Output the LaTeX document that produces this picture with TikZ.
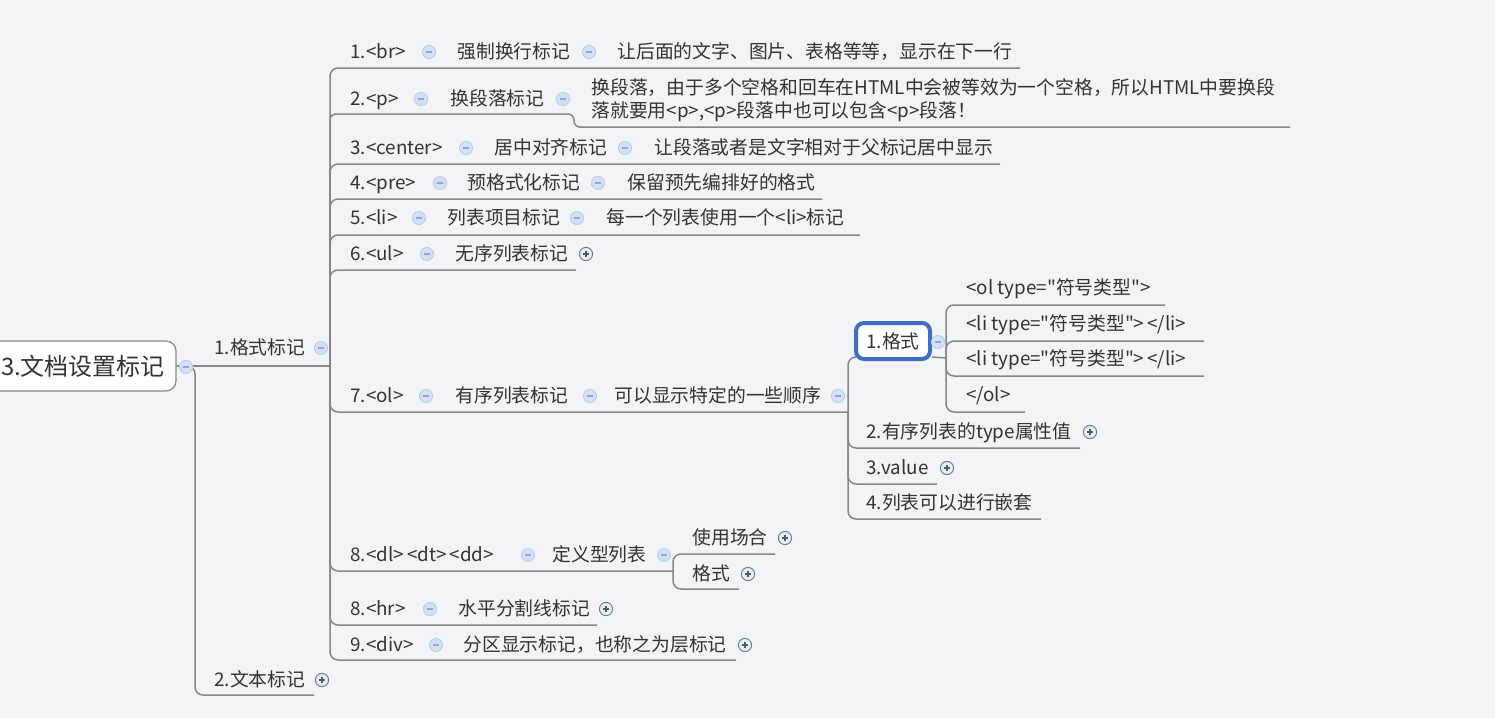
\documentclass[tikz,border=0pt]{standalone}
\usepackage{fontspec}
\setmainfont{Noto Sans CJK SC}
\newfontfamily\plainfont{Noto Sans CJK SC}
\definecolor{paper}{HTML}{F3F4F8}
\definecolor{wire}{HTML}{878787}
\definecolor{ink}{HTML}{333333}
\definecolor{foldfill}{HTML}{D3E0F5}
\definecolor{foldedge}{HTML}{BACDEC}
\definecolor{foldbar}{HTML}{8FA9D6}
\definecolor{unfoldfill}{HTML}{E9EEF5}
\definecolor{unfoldedge}{HTML}{6C7F98}
\definecolor{pick}{HTML}{3F6EC6}
\tikzset{
  lbl/.style={anchor=base west,yshift=-3.4pt,inner sep=0,text=ink,font=\plainfont\fontsize{9.4}{11}\selectfont},
  fold/.style={circle,inner sep=0,minimum size=6.6pt,fill=foldfill,draw=foldedge,line width=0.4pt,
    path picture={\draw[foldbar,line width=0.8pt]
      ([xshift=-1.6pt]path picture bounding box.center) -- ([xshift=1.6pt]path picture bounding box.center);}},
  unfold/.style={circle,inner sep=0,minimum size=6.6pt,fill=unfoldfill,draw=unfoldedge,line width=0.5pt,
    path picture={\draw[unfoldedge!70!black,line width=0.6pt]
      ([xshift=-1.7pt]path picture bounding box.center) -- ([xshift=1.7pt]path picture bounding box.center)
      ([yshift=-1.7pt]path picture bounding box.center) -- ([yshift=1.7pt]path picture bounding box.center);}},
  branch/.style={draw=wire,line width=0.75pt,rounded corners=4pt},
}
\begin{document}
\begin{tikzpicture}[x=0.5pt,y=-0.5pt]
  \fill[paper] (0,0) rectangle (1495,718);
  \useasboundingbox (0,0) rectangle (1495,718);
  \clip (0,0) rectangle (1495,718);
  % boxed topics
  \node[draw=wire,fill=white,line width=0.6pt,rounded corners=5pt,minimum width=93pt,minimum height=25pt,
    text=ink,font=\fontsize{12}{14}\selectfont] (root) at (83,366) {3.文档设置标记};
  \node[draw=pick,fill=white,line width=2pt,rounded corners=4pt,minimum width=37pt,minimum height=18pt,
    inner sep=0,text=ink,font=\fontsize{9.4}{11}\selectfont] (geshi) at (893,341) {1.格式};
  % junctions and line ends
  \coordinate (rt-j) at (195,366);
  \coordinate (fmt-j) at (330,366);
  \coordinate (txt-u) at (314,695);
  \coordinate (br-u) at (1020,68);
  \coordinate (p-j) at (574,114);
  \coordinate (pd-u) at (1290,127);
  \coordinate (ctr-u) at (1000,164);
  \coordinate (pre-u) at (822,199);
  \coordinate (li-u) at (860,235);
  \coordinate (ul-u) at (576,270);
  \coordinate (ol-j) at (848,412);
  \coordinate (gs-j) at (946,358);
  \coordinate (olt-u) at (1165,305);
  \coordinate (li1-u) at (1204,341);
  \coordinate (li2-u) at (1204,376);
  \coordinate (olc-u) at (1025,412);
  \coordinate (ord-u) at (1080,448);
  \coordinate (val-u) at (937,484);
  \coordinate (nest-u) at (1041,519);
  \coordinate (dl-j) at (673,571);
  \coordinate (use-u) at (775,554);
  \coordinate (fm-u) at (739,589);
  \coordinate (hr-u) at (597,625);
  \coordinate (dv-u) at (736,660);
  % branches
  \draw[branch] (root.east) -- (fmt-j);
  \draw[branch] (root.east) -- (rt-j) |- (txt-u);
  \draw[branch] (fmt-j) |- (br-u);
  \draw[branch,rounded corners=3pt] (fmt-j) |- (p-j) |- (pd-u);
  \foreach \e in {ctr-u,pre-u,li-u,ul-u,ol-j,dl-j,hr-u,dv-u}
    \draw[branch] (fmt-j) |- (\e);
  \draw[branch] (ol-j) |- ([yshift=2pt]geshi.south west);
  \foreach \e in {ord-u,val-u,nest-u}
    \draw[branch] (ol-j) |- (\e);
  \draw[branch] ([yshift=2pt]geshi.south east) -- (gs-j);
  \foreach \e in {olt-u,li1-u,li2-u,olc-u}
    \draw[branch] (gs-j) |- (\e);
  \draw[branch] (dl-j) |- (use-u);
  \draw[branch] (dl-j) |- (fm-u);
  % root level
  \node[fold] (root-m) at (186,367) {};
  \node[lbl] (fmt) at (214,348) {1.格式标记};
  \node[fold] (fmt-m) at (321,348) {};
  \node[lbl] (txt) at (214,680) {2.文本标记};
  \node[unfold] (txt-p) at (322,680) {};
  % 1.<br>
  \node[lbl] (br) at (350,52) {1.<br>};
  \node[fold] (br-m) at (429,52) {};
  \node[lbl] (brn) at (457,52) {强制换行标记};
  \node[fold] (brn-m) at (589,52) {};
  \node[lbl] (brd) at (617,52) {让后面的文字、图片、表格等等，显示在下一行};
  % 2.<p>
  \node[lbl] (p) at (350,99) {2.<p>};
  \node[fold] (p-m) at (421,99) {};
  \node[lbl] (pn) at (450,99) {换段落标记};
  \node[fold] (pn-m) at (563,99) {};
  \node[lbl] (pd) at (591,88) {换段落，由于多个空格和回车在HTML中会被等效为一个空格，所以HTML中要换段};
  \node[lbl] (pd2) at (591,111) {落就要用<p>,<p>段落中也可以包含<p>段落！};
  % 3.<center>
  \node[lbl] (ctr) at (350,148) {3.<center>};
  \node[fold] (ctr-m) at (466,148) {};
  \node[lbl] (ctrn) at (494,148) {居中对齐标记};
  \node[fold] (ctrn-m) at (625,148) {};
  \node[lbl] (ctrd) at (654,148) {让段落或者是文字相对于父标记居中显示};
  % 4.<pre>
  \node[lbl] (pre) at (350,183) {4.<pre>};
  \node[fold] (pre-m) at (440,183) {};
  \node[lbl] (pren) at (467,183) {预格式化标记};
  \node[fold] (pren-m) at (598,183) {};
  \node[lbl] (pred) at (627,183) {保留预先编排好的格式};
  % 5.<li>
  \node[lbl] (li) at (350,218) {5.<li>};
  \node[fold] (li-m) at (419,218) {};
  \node[lbl] (lin) at (447,218) {列表项目标记};
  \node[fold] (lin-m) at (577,218) {};
  \node[lbl] (lid) at (606,218) {每一个列表使用一个<li>标记};
  % 6.<ul>
  \node[lbl] (ul) at (350,254) {6.<ul>};
  \node[fold] (ul-m) at (427,254) {};
  \node[lbl] (uln) at (455,254) {无序列表标记};
  \node[unfold] (uln-p) at (586,254) {};
  % 7.<ol>
  \node[lbl] (ol) at (350,396) {7.<ol>};
  \node[fold] (ol-m) at (426,396) {};
  \node[lbl] (oln) at (455,396) {有序列表标记};
  \node[fold] (oln-m) at (590,396) {};
  \node[lbl] (old) at (614,396) {可以显示特定的一些顺序};
  \node[fold] (old-m) at (838,396) {};
  \node[fold] (gs-m) at (938,342) {};
  \node[lbl] (olt) at (966,288) {<ol type="符号类型">};
  \node[lbl] (li1) at (966,324) {<li type="符号类型">\,</li>};
  \node[lbl] (li2) at (966,359) {<li type="符号类型">\,</li>};
  \node[lbl] (olc) at (966,395) {</ol>};
  \node[lbl] (ord) at (866,432) {2.有序列表的type属性值};
  \node[unfold] (ord-p) at (1090,432) {};
  \node[lbl] (val) at (866,468) {3.value};
  \node[unfold] (val-p) at (947,468) {};
  \node[lbl] (nest) at (866,503) {4.列表可以进行嵌套};
  % 8.<dl>
  \node[lbl] (dl) at (350,555) {8.<dl>\,<dt>\,<dd>};
  \node[fold] (dl-m) at (528,555) {};
  \node[lbl] (dln) at (552,555) {定义型列表};
  \node[fold] (dln-m) at (664,555) {};
  \node[lbl] (use) at (692,538) {使用场合};
  \node[unfold] (use-p) at (785,538) {};
  \node[lbl] (fm) at (692,574) {格式};
  \node[unfold] (fm-p) at (748,574) {};
  % 8.<hr>, 9.<div>
  \node[lbl] (hr) at (350,609) {8.<hr>};
  \node[fold] (hr-m) at (430,609) {};
  \node[lbl] (hrn) at (458,609) {水平分割线标记};
  \node[unfold] (hrn-p) at (606,609) {};
  \node[lbl] (dv) at (350,645) {9.<div>};
  \node[fold] (dv-m) at (436,645) {};
  \node[lbl] (dvn) at (463,645) {分区显示标记，也称之为层标记};
  \node[unfold] (dvn-p) at (745,645) {};
\end{tikzpicture}
\end{document}
